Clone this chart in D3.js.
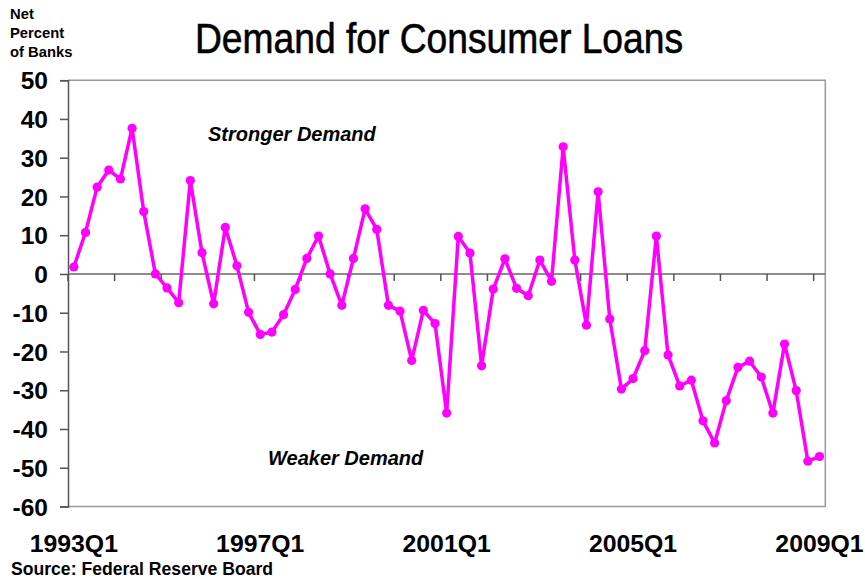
<!DOCTYPE html>
<html><head><meta charset="utf-8">
<script src="https://cdn.jsdelivr.net/npm/d3@7"></script>
<style>body{margin:0;background:#fff}</style>
</head><body>
<svg id="c" width="865" height="579"></svg>
<script>
const years = d3.range(1993, 2010);
const quarters = [];
years.forEach(y => { for (let q = 1; q <= 4; q++) { if (y === 2009 && q > 1) break; quarters.push(y + "Q" + q); } });
const values = [
  1.8, 10.7, 22.4, 26.8, 24.5, 37.6, 16.1, 0, -3.6, -7.4,
  24.1, 5.5, -7.7, 12.0, 2.1, -9.9, -15.6, -15.0, -10.5, -4.0,
  4.0, 9.8, 0, -8.1, 4.0, 16.8, 11.5, -8.1, -9.6, -22.3,
  -9.4, -12.8, -35.9, 9.7, 5.4, -23.7, -3.9, 3.9, -3.7, -5.6,
  3.6, -1.9, 32.8, 3.6, -13.2, 21.2, -11.6, -29.7, -27.0, -19.8,
  9.8, -20.9, -28.9, -27.4, -37.9, -43.6, -32.7, -24.1, -22.5, -26.6,
  -35.9, -18.1, -30.1, -48.3, -47.1
];
const yTicks = [50, 40, 30, 20, 10, 0, -10, -20, -30, -40, -50, -60];
const xLabels = ["1993Q1", "1997Q1", "2001Q1", "2005Q1", "2009Q1"];
const title = "Demand for Consumer Loans";
const yTitle = ["Net", "Percent", "of Banks"];
const source = "Source: Federal Reserve Board";

const svg = d3.select("#c");
const L = 68, R = 825.3, T = 80.2, B = 506.5;
const x = d3.scaleBand().domain(quarters).range([L, R]).padding(0);
const y = d3.scaleLinear().domain([-60, 50]).range([B, T]);
const bold = "Liberation Sans, Arial, sans-serif";

// frame (top, right, bottom)
svg.append("path")
  .attr("d", `M${L},${y(50)}H${R}V${y(-60)}H${L}`)
  .attr("fill", "none").attr("stroke", "#999").attr("stroke-width", 1.5);

// left axis
const yAxis = d3.axisLeft(y).tickValues(yTicks).tickSize(8).tickFormat(d => d);
const gy = svg.append("g").attr("transform", `translate(${L},0)`).call(yAxis);
gy.select(".domain").attr("stroke", "#555").attr("stroke-width", 1.5);
gy.selectAll(".tick line").attr("stroke", "#555").attr("stroke-width", 1.5);
gy.selectAll(".tick text").attr("x", -20).attr("font-family", bold)
  .attr("font-weight", "bold").attr("font-size", 24.5).attr("fill", "#000").attr("dy", "0.35em");

// zero axis with ticks every 4 quarters (band boundaries)
const tickIdx = d3.range(0, quarters.length, 4);
svg.append("line").attr("x1", L).attr("x2", R).attr("y1", y(0)).attr("y2", y(0))
  .attr("stroke", "#666").attr("stroke-width", 1.5);
svg.append("g").selectAll("line").data(tickIdx).join("line")
  .attr("x1", i => x(quarters[i])).attr("x2", i => x(quarters[i]))
  .attr("y1", y(0)).attr("y2", y(0) + 7)
  .attr("stroke", "#555").attr("stroke-width", 1.5);

// x labels
svg.append("g").selectAll("text").data(xLabels).join("text")
  .attr("x", d => x(d) + x.bandwidth() / 2).attr("y", 552)
  .attr("text-anchor", "middle").attr("font-family", bold).attr("font-weight", "bold")
  .attr("font-size", 24.8).text(d => d);

// line + markers
const pts = quarters.map((q, i) => ({ q, v: values[i] }));
const line = d3.line().x(d => x(d.q) + x.bandwidth() / 2).y(d => y(d.v));
svg.append("path").datum(pts).attr("d", line)
  .attr("fill", "none").attr("stroke", "#FF00FF").attr("stroke-width", 3.5).attr("stroke-linejoin", "round");
svg.append("g").selectAll("circle").data(pts).join("circle")
  .attr("cx", d => x(d.q) + x.bandwidth() / 2).attr("cy", d => y(d.v)).attr("r", 4.6)
  .attr("fill", "#FF00FF");

// title
svg.append("text").attr("x", 195).attr("y", 53)
  .attr("font-family", "'Liberation Sans Narrow', 'Arial Narrow', Liberation Sans, sans-serif")
  .attr("font-size", 42).attr("textLength", 488).attr("lengthAdjust", "spacingAndGlyphs")
  .attr("fill", "#000").attr("stroke", "#000").attr("stroke-width", 0.6).text(title);

// y title
svg.append("g").selectAll("text").data(yTitle).join("text")
  .attr("x", 10).attr("y", (d, i) => 19 + i * 18.8)
  .attr("font-family", bold).attr("font-weight", "bold").attr("font-size", 14.8).text(d => d);

// annotations
svg.append("text").attr("x", 208).attr("y", 141).attr("font-family", bold)
  .attr("font-weight", "bold").attr("font-style", "italic").attr("font-size", 20).text("Stronger Demand");
svg.append("text").attr("x", 268).attr("y", 465).attr("font-family", bold)
  .attr("font-weight", "bold").attr("font-style", "italic").attr("font-size", 20).text("Weaker Demand");

// source
svg.append("text").attr("x", 11).attr("y", 575).attr("font-family", bold)
  .attr("font-weight", "bold").attr("font-size", 17.6).text(source);
</script>
</body></html>
